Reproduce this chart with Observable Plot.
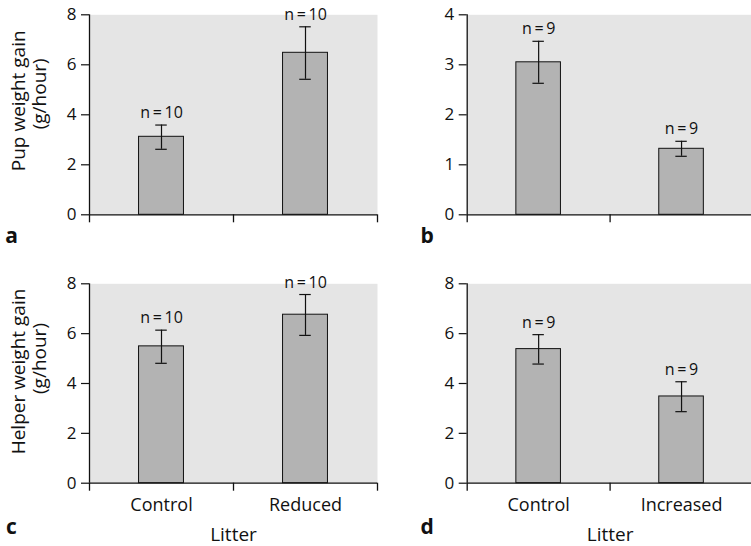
<!DOCTYPE html>
<html><head><meta charset="utf-8">
<script src="https://cdn.jsdelivr.net/npm/d3@7"></script>
<script src="https://cdn.jsdelivr.net/npm/@observablehq/plot@0.6"></script>
<style>
body{margin:0;background:#fff;overflow:hidden;}
#root{position:relative;width:751px;height:546px;overflow:hidden;}
.panel{position:absolute;}
</style></head><body><div id="root"></div>
<script>
// ---- data ----
const categoriesReduced = ["Control", "Reduced"];
const categoriesIncreased = ["Control", "Increased"];

const pupReducedMean = [3.12, 6.48];
const pupReducedLow  = [2.62, 5.42];
const pupReducedHigh = [3.59, 7.52];
const pupReducedN    = [10, 10];

const pupIncreasedMean = [3.05, 1.32];
const pupIncreasedLow  = [2.63, 1.17];
const pupIncreasedHigh = [3.47, 1.47];
const pupIncreasedN    = [9, 9];

const helperReducedMean = [5.49, 6.76];
const helperReducedLow  = [4.81, 5.93];
const helperReducedHigh = [6.14, 7.57];
const helperReducedN    = [10, 10];

const helperIncreasedMean = [5.38, 3.48];
const helperIncreasedLow  = [4.78, 2.87];
const helperIncreasedHigh = [5.96, 4.07];
const helperIncreasedN    = [9, 9];

const yTicksPup8 = [0, 2, 4, 6, 8];
const yTicksPup4 = [0, 1, 2, 3, 4];
const yTicksHelper = [0, 2, 4, 6, 8];

const pupLabel = ["Pup weight gain", "(g/hour)"];
const helperLabel = ["Helper weight gain", "(g/hour)"];
const xTitle = "Litter";
const panelLetters = ["a", "b", "c", "d"];

// ---- drawing ----
const FONT = "'Open Sans', sans-serif";
const INK = "#111";
const HALF_BAR = 0.156;
const HALF_CAP = 0.04;

function rowsOf(cats, mean, lo, hi, n) {
  return cats.map((c, i) => ({cat: c, i, mean: mean[i], lo: lo[i], hi: hi[i], n: n[i]}));
}

function panel({cats, mean, lo, hi, n, yTicks, yLabel, letter, bottom, left}) {
  const rows = rowsOf(cats, mean, lo, hi, n);
  const yMax = yTicks[yTicks.length - 1];
  const height = bottom ? 286 : 260;
  const marginTop = bottom ? 23.3 : 14.3;
  const marginBottom = bottom ? 63.3 : 45.7;
  const marginLeft = left ? 89 : 76.7;
  const marginRight = left ? 13 : -1.5;
  const width = left ? 390 : 361;
  const marks = [
    Plot.frame({fill: "#e5e5e5", stroke: null}),
    Plot.rectY(rows, {x1: d => d.i + 0.5 - HALF_BAR, x2: d => d.i + 0.5 + HALF_BAR, y1: 0, y2: "mean",
      fill: "#b3b3b3", stroke: INK, strokeWidth: 1}),
    Plot.ruleX(rows, {x: d => d.i + 0.5, y1: "lo", y2: "hi", stroke: INK, strokeWidth: 1.2}),
    Plot.ruleY(rows, {y: "hi", x1: d => d.i + 0.5 - HALF_CAP, x2: d => d.i + 0.5 + HALF_CAP, stroke: INK, strokeWidth: 1.2}),
    Plot.ruleY(rows, {y: "lo", x1: d => d.i + 0.5 - HALF_CAP, x2: d => d.i + 0.5 + HALF_CAP, stroke: INK, strokeWidth: 1.2}),
    Plot.text(rows, {x: d => d.i + 0.5, y: "hi", text: d => `n\u2009=\u2009${d.n}`, dy: -7, lineAnchor: "bottom",
      fontSize: 16, fill: INK}),
    Plot.ruleY([0], {stroke: INK, strokeWidth: 1.3}),
    Plot.ruleX([0], {stroke: INK, strokeWidth: 1.3}),
    Plot.axisY({ticks: yTicks, tickSize: 8, tickFormat: () => "", label: null, stroke: INK, strokeWidth: 1.2}),
    Plot.text(yTicks, {frameAnchor: "left", y: d => d, text: d => String(d), dx: -13, textAnchor: "end",
      lineAnchor: "middle", fontSize: 17, fill: INK}),
    Plot.axisX({ticks: [0, 1, 2], tickSize: 8, tickFormat: () => "", label: null, stroke: INK, strokeWidth: 1.3}),
    Plot.text([letter], {frameAnchor: "bottom-left", text: d => d, dx: left ? -78 : -40, dy: bottom ? 44 : 21,
      fontWeight: "bold", fontSize: 21, fill: INK, textAnchor: "middle", lineAnchor: "middle"})
  ];
  if (yLabel) {
    const shift = bottom ? [-12, -25] : [-14, -21];
    marks.push(Plot.text([yLabel[0]], {frameAnchor: "left", text: d => d, rotate: -90, dx: -71, dy: shift[0],
      fontSize: 19, fill: INK, textAnchor: "middle", lineAnchor: "middle"}));
    marks.push(Plot.text([yLabel[1]], {frameAnchor: "left", text: d => d, rotate: -90, dx: -50, dy: shift[1],
      fontSize: 19, fill: INK, textAnchor: "middle", lineAnchor: "middle"}));
  }
  if (bottom) {
    marks.push(Plot.text(cats, {x: (d, i) => i + 0.5, frameAnchor: "bottom", text: d => d, dy: 22,
      fontSize: 18, fill: INK, lineAnchor: "middle"}));
    marks.push(Plot.text([xTitle], {frameAnchor: "bottom", text: d => d, dy: 52, fontSize: 19, fill: INK,
      lineAnchor: "middle"}));
  }
  const svg = Plot.plot({
    width, height, marginTop, marginBottom, marginLeft, marginRight,
    style: {fontFamily: FONT, fontSize: "15px", background: "transparent", overflow: "visible", color: INK},
    x: {domain: [0, 2], axis: null},
    y: {domain: [0, yMax], axis: null},
    marks
  });
  const div = document.createElement("div");
  div.className = "panel";
  div.style.left = (left ? 0 : 390) + "px";
  div.style.top = (bottom ? 260 : 0) + "px";
  div.appendChild(svg);
  return div;
}

const root = document.getElementById("root");
root.appendChild(panel({cats: categoriesReduced, mean: pupReducedMean, lo: pupReducedLow, hi: pupReducedHigh, n: pupReducedN,
  yTicks: yTicksPup8, yLabel: pupLabel, letter: panelLetters[0], bottom: false, left: true}));
root.appendChild(panel({cats: categoriesIncreased, mean: pupIncreasedMean, lo: pupIncreasedLow, hi: pupIncreasedHigh, n: pupIncreasedN,
  yTicks: yTicksPup4, yLabel: null, letter: panelLetters[1], bottom: false, left: false}));
root.appendChild(panel({cats: categoriesReduced, mean: helperReducedMean, lo: helperReducedLow, hi: helperReducedHigh, n: helperReducedN,
  yTicks: yTicksHelper, yLabel: helperLabel, letter: panelLetters[2], bottom: true, left: true}));
root.appendChild(panel({cats: categoriesIncreased, mean: helperIncreasedMean, lo: helperIncreasedLow, hi: helperIncreasedHigh, n: helperIncreasedN,
  yTicks: yTicksHelper, yLabel: null, letter: panelLetters[3], bottom: true, left: false}));
</script></body></html>
